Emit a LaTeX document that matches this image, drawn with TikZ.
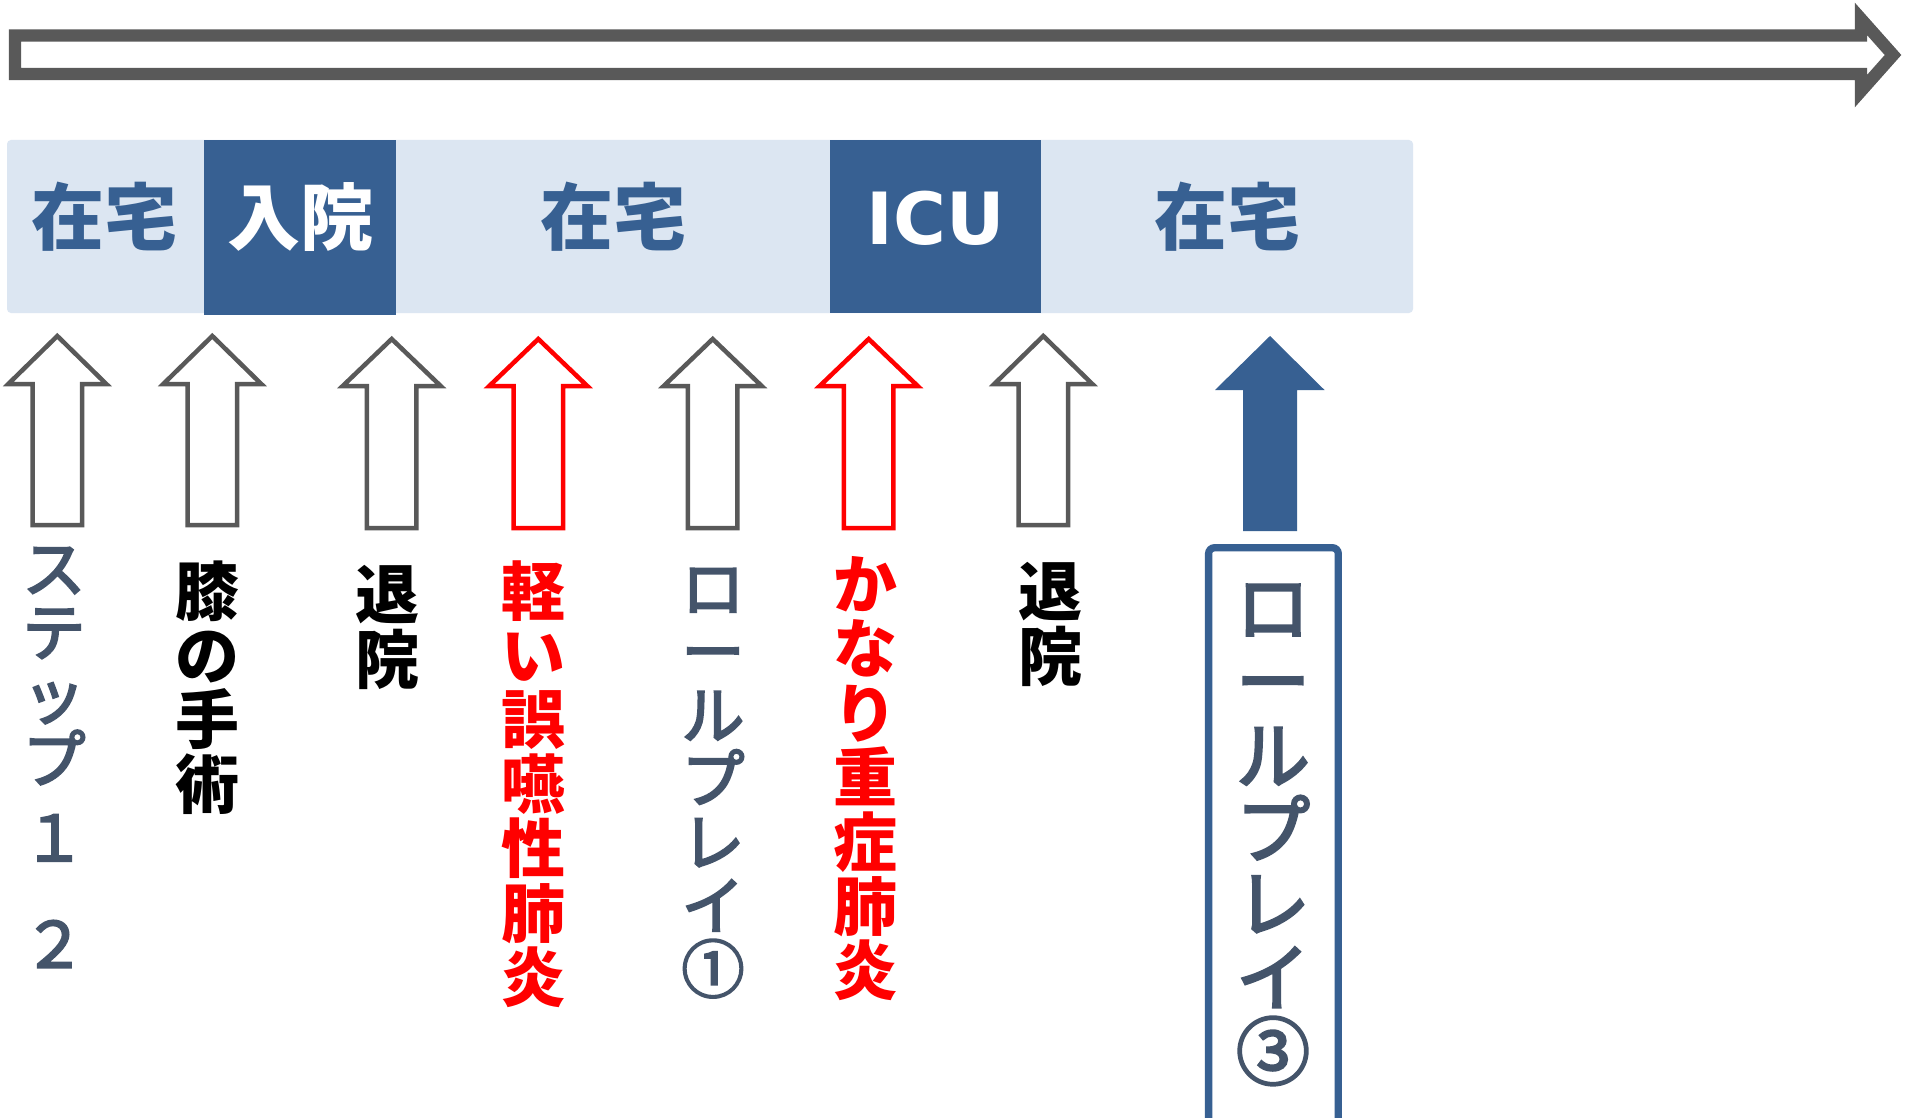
\documentclass[tikz,border=0pt]{standalone}
\usepackage{fontspec}
\newfontfamily\jp{Noto Sans CJK JP}
\newfontfamily\jpm[FakeBold=3.2]{Noto Sans CJK JP}
\newfontfamily\dvs{DejaVu Sans}
\definecolor{arrgray}{HTML}{595959}
\definecolor{alertred}{HTML}{FF0000}
\definecolor{darkband}{HTML}{376092}
\definecolor{lightband}{HTML}{DCE6F2}
\definecolor{slate}{HTML}{44546A}
\newcommand\uparr[5]{%
  \draw[#1] (#2,#3) -- (#2+49,#4) -- (#2+24.75,#4) -- (#2+24.75,#5) -- (#2-24.75,#5) -- (#2-24.75,#4) -- (#2-49,#4) -- cycle;}
\begin{document}
\begin{tikzpicture}[x=0.5pt,y=-0.5pt,
  hdr/.style={inner sep=0pt, font=\jp\bfseries\fontsize{36.5pt}{40pt}\selectfont, text=darkband},
  icustyle/.style={inner sep=0pt, font=\dvs\bfseries\fontsize{36pt}{40pt}\selectfont, text=white},
  vcol/.style={inner sep=0pt, anchor=north, align=center},
  boldcol/.style={vcol, font=\jp\bfseries\fontsize{32pt}{32.2pt}\selectfont},
  regcol/.style={vcol, font=\jpm\fontsize{31.5pt}{31.75pt}\selectfont, text=slate},
  hollow/.style={draw=arrgray, fill=white, line width=2.25pt, miter limit=10},
  hollowred/.style={draw=alertred, fill=white, line width=2.25pt, miter limit=10},
  solidarr/.style={fill=darkband, draw=none}
]
\useasboundingbox (0,0) rectangle (1905,1118);
\fill[white] (0,0) rectangle (1905,1118);

% timeline arrow
\draw[arrgray, line width=6.2pt, miter limit=10]
  (15,35.5) -- (1861,35.5) -- (1861,19) -- (1893,55) -- (1861,91) -- (1861,74) -- (15,74) -- cycle;

% band
\fill[lightband, rounded corners=2pt] (7,140) rectangle (1413,313);
\fill[darkband] (204,140) rectangle (396,315);
\fill[darkband] (830,140) rectangle (1041,313);
\node[hdr] (home1) at (105,217) {在宅};
\node[hdr, text=white] (hosp) at (300,217) {入院};
\node[hdr] (home2) at (613,217) {在宅};
\node[icustyle] (icu) at (936,218) {ICU};
\node[hdr] (home3) at (1227,217) {在宅};

% up arrows
\uparr{hollow}{57.3}{336}{384}{525}
\uparr{hollow}{212.3}{336}{384}{525}
\uparr{hollow}{391.7}{339}{386}{528}
\uparr{hollowred}{538.3}{339}{386}{528}
\uparr{hollow}{712.7}{339}{386}{528}
\uparr{hollowred}{868.7}{339}{386}{528}
\uparr{hollow}{1043.3}{336}{384}{525}
\fill[darkband] (1270,336) -- (1324.5,390) -- (1297,390) -- (1297,531) -- (1243,531) -- (1243,390) -- (1215,390) -- cycle;

% box
\draw[darkband, line width=3.65pt, rounded corners=3pt]
  (1208.6,1160) -- (1208.6,547.7) -- (1338.3,547.7) -- (1338.3,1160);

% column labels
\node[regcol] (step) at (54,547) {ス\\テ\\ッ\\プ\\[7.5pt]１\\[21.5pt]２};
\node[boldcol] (knee) at (207,560) {膝\\の\\手\\術};
\node[boldcol] (disc1) at (387,565) {退\\院};
\node[boldcol, text=alertred] (mild) at (533,560) {軽\\い\\誤\\嚥\\性\\肺\\炎};
\node[regcol] (rp1) at (713,568) {ロ\\ー\\ル\\プ\\レ\\イ\\①};
\node[boldcol, text=alertred] (severe) at (865,556) {か\\な\\り\\重\\症\\肺\\炎};
\node[boldcol] (disc2) at (1050,562) {退\\院};
\node[vcol, font=\jpm\fontsize{37pt}{37pt}\selectfont, text=slate] (rp3) at (1273,584) {ロ\\ー\\ル\\プ\\レ\\イ\\③};
\end{tikzpicture}
\end{document}
